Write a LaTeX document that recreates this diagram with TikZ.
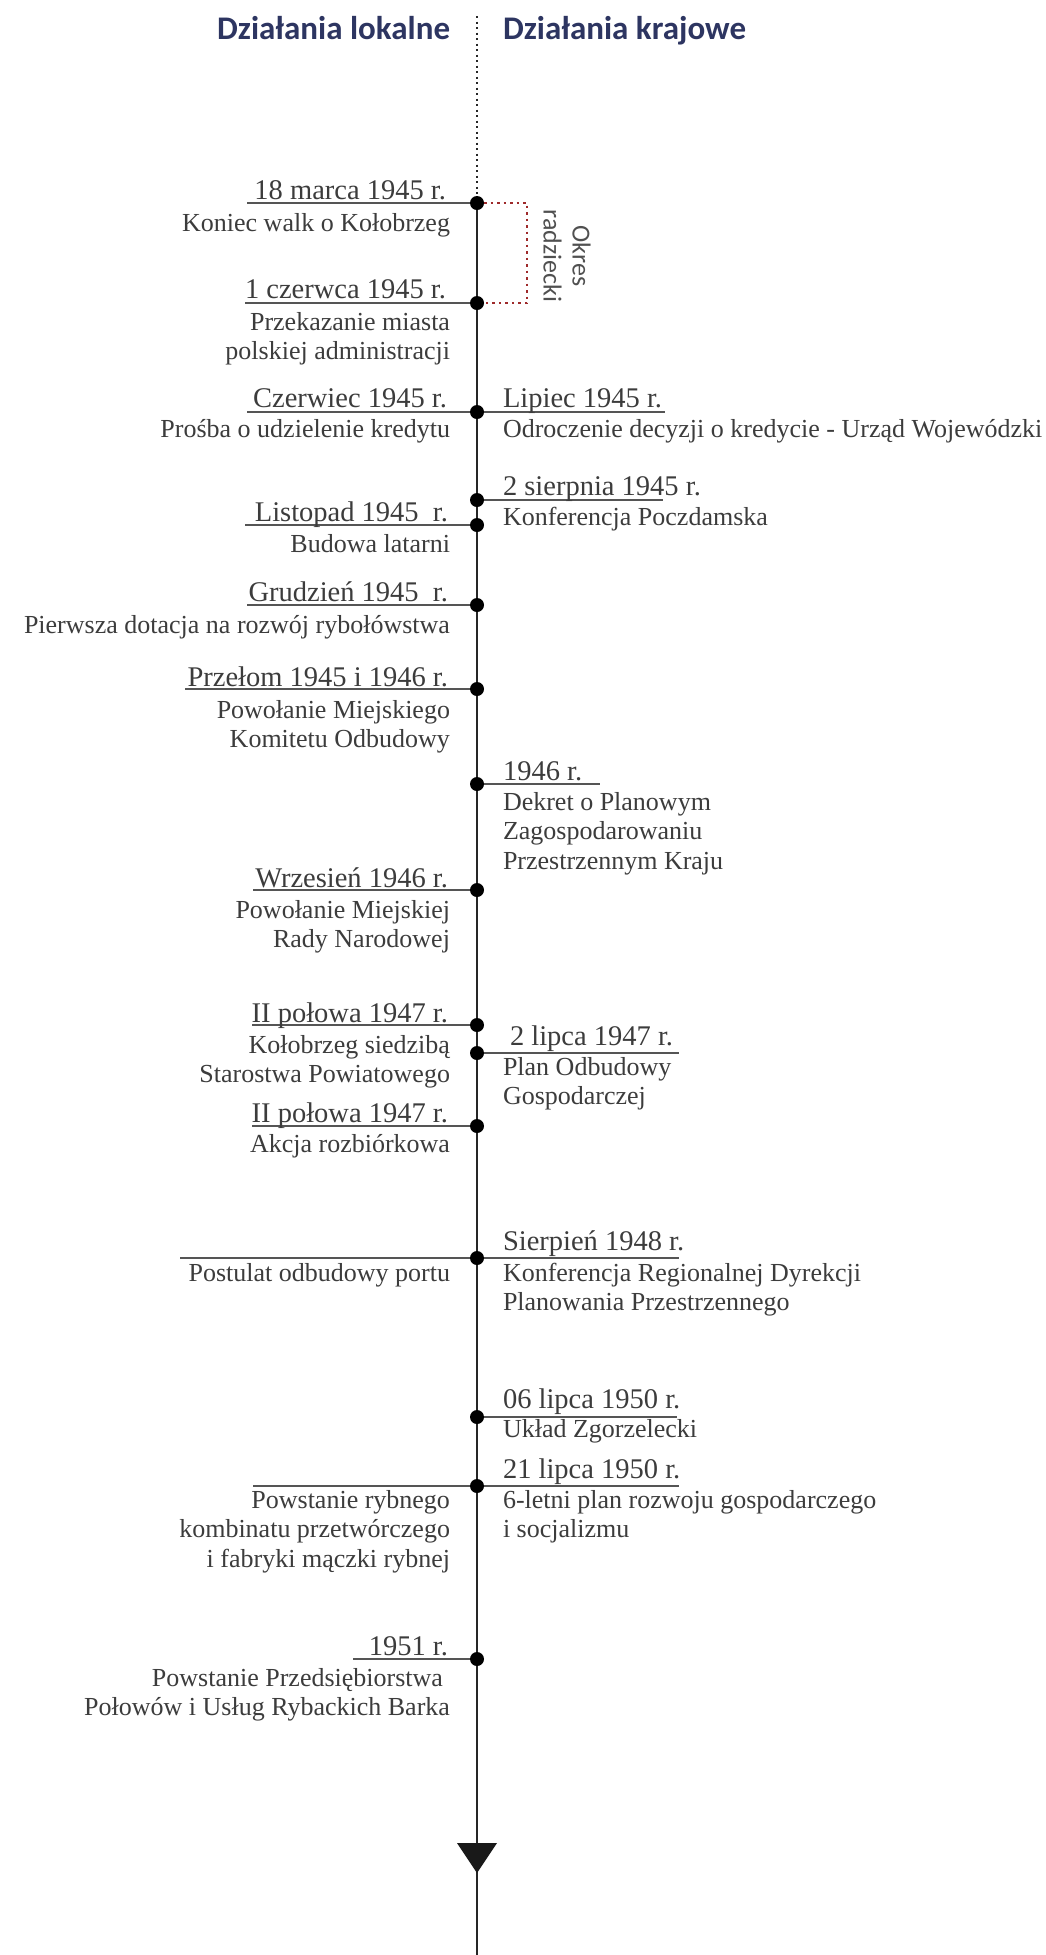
\documentclass[tikz,border=0pt]{standalone}
\usepackage{fontspec}
\setmainfont{Liberation Serif}
\newfontfamily\hdrfont{Carlito}
\definecolor{navy}{HTML}{2D3561}
\definecolor{txt}{HTML}{3C3C3C}
\definecolor{uline}{HTML}{555555}
\definecolor{brk}{HTML}{9E2A2B}
\begin{document}
\begin{tikzpicture}[x=1pt,y=-1pt,
  every node/.style={inner sep=0pt, outer sep=0pt, text=txt, font=\fontsize{26}{29.5}\selectfont},
  datefont/.style={font=\fontsize{28.5}{30}\selectfont},
  ldate/.style={datefont, anchor=base east},
  ldesc/.style={anchor=base east, align=right},
  rdate/.style={datefont, anchor=base west},
  rdesc/.style={anchor=base west, align=left},
  hdr/.style={font=\hdrfont\bfseries\fontsize{33}{36}\selectfont, text=navy},
  evdot/.style={circle, fill=black, minimum size=14pt, inner sep=0pt},
  tick/.style={draw=uline, line width=2pt},
  axisline/.style={draw=black!85, line width=2pt},
  bracketline/.style={draw=brk, line width=2.5pt, dash pattern=on 2.5pt off 4pt},
  ]
\useasboundingbox (0,0) rectangle (1045,1955);

% headers
\node[hdr, anchor=base east] (hl) at (450,39) {Działania lokalne};
\node[hdr, anchor=base west] (hr) at (503,39) {Działania krajowe};

% event positions on the axis
\coordinate (top) at (477,16);
\coordinate (bot) at (477,1955);
\coordinate (p1) at (477,203);
\coordinate (p2) at (477,303);
\coordinate (p3) at (477,412);
\coordinate (p4) at (477,500);
\coordinate (p5) at (477,525);
\coordinate (p6) at (477,605);
\coordinate (p7) at (477,689);
\coordinate (p8) at (477,784);
\coordinate (p9) at (477,890);
\coordinate (p10) at (477,1025);
\coordinate (p11) at (477,1053);
\coordinate (p12) at (477,1126);
\coordinate (p13) at (477,1258);
\coordinate (p14) at (477,1417);
\coordinate (p15) at (477,1486);
\coordinate (p16) at (477,1659);

% underline ends
\coordinate (l1) at (247,203);
\coordinate (l2) at (245,303);
\coordinate (l3) at (247,412);
\coordinate (r3) at (665,412);
\coordinate (r4) at (663,500);
\coordinate (l5) at (245,525);
\coordinate (l6) at (247,605);
\coordinate (l7) at (185,689);
\coordinate (r8) at (600,784);
\coordinate (l9) at (253,890);
\coordinate (l10) at (252,1025);
\coordinate (r11) at (679,1053);
\coordinate (l12) at (252,1126);
\coordinate (l13) at (180,1258);
\coordinate (r13) at (679,1258);
\coordinate (r14) at (677,1417);
\coordinate (l15) at (253,1486);
\coordinate (r15) at (679,1486);
\coordinate (l16) at (353,1659);

\draw[tick] (p1) -- (l1);
\draw[tick] (p2) -- (l2);
\draw[tick] (l3) -- (r3);
\draw[tick] (p4) -- (r4);
\draw[tick] (p5) -- (l5);
\draw[tick] (p6) -- (l6);
\draw[tick] (p7) -- (l7);
\draw[tick] (p8) -- (r8);
\draw[tick] (p9) -- (l9);
\draw[tick] (p10) -- (l10);
\draw[tick] (p11) -- (r11);
\draw[tick] (p12) -- (l12);
\draw[tick] (l13) -- (r13);
\draw[tick] (p14) -- (r14);
\draw[tick] (l15) -- (r15);
\draw[tick] (p16) -- (l16);

% axis
\draw[axisline, line width=2.2pt, dash pattern=on 2pt off 3.5pt] (top) -- (p1);
\draw[axisline] (p1) -- (bot);
\coordinate (arr) at (477,1843);
\fill[black!90] (arr) ++(-20,0) -- ++(40,0) -- ++(-20,30) -- cycle;

% dots
\foreach \i in {1,...,16}{ \node[evdot] (d\i) at (p\i) {}; }

% Okres radziecki bracket
\coordinate (bk) at (527,253);
\draw[bracketline] (d1.east) -| (bk) |- (d2.east);
\node[rotate=-90, align=center, font=\hdrfont\fontsize{26}{29}\selectfont, text=txt!90] (okres) at (567,256) {Okres\\radziecki};

% texts (multi-line nodes: base = baseline of last line)
\node[ldate] (t1) at (446,199) {18 marca 1945 r.};
\node[ldesc] (s1) at (450,231) {Koniec walk o Kołobrzeg};

\node[ldate] (t2) at (446,298) {1 czerwca 1945 r.};
\node[ldesc] (s2) at (450,359.5) {Przekazanie miasta\\polskiej administracji};

\node[ldate] (t3) at (447,407) {Czerwiec 1945 r.};
\node[ldesc] (s3) at (450,437) {Prośba o udzielenie kredytu};
\node[rdate] (u3) at (503,407) {Lipiec 1945 r.};
\node[rdesc] (v3) at (503,437) {Odroczenie decyzji o kredycie - Urząd Wojewódzki};

\node[rdate] (u4) at (503,495) {2 sierpnia 1945 r.};
\node[rdesc] (v4) at (503,525) {Konferencja Poczdamska};

\node[ldate] (t5) at (448,521) {Listopad 1945\ \ r.};
\node[ldesc] (s5) at (450,552) {Budowa latarni};

\node[ldate] (t6) at (448,601) {Grudzień 1945\ \ r.};
\node[ldesc] (s6) at (450,633) {Pierwsza dotacja na rozwój rybołówstwa};

\node[ldate] (t7) at (448,686) {Przełom 1945 i 1946 r.};
\node[ldesc] (s7) at (450,747.5) {Powołanie Miejskiego\\Komitetu Odbudowy};

\node[rdate] (u8) at (503,780) {1946 r.};
\node[rdesc] (v8) at (503,869) {Dekret o Planowym\\Zagospodarowaniu\\Przestrzennym Kraju};

\node[ldate] (t9) at (448,887) {Wrzesień 1946 r.};
\node[ldesc] (s9) at (450,947.5) {Powołanie Miejskiej\\Rady Narodowej};

\node[ldate] (t10) at (448,1022) {II połowa 1947 r.};
\node[ldesc] (s10) at (450,1082.5) {Kołobrzeg siedzibą\\Starostwa Powiatowego};

\node[rdate] (u11) at (510,1045) {2 lipca 1947 r.};
\node[rdesc] (v11) at (503,1104.5) {Plan Odbudowy\\Gospodarczej};

\node[ldate] (t12) at (448,1122) {II połowa 1947 r.};
\node[ldesc] (s12) at (450,1152) {Akcja rozbiórkowa};

\node[rdate] (u13) at (503,1250) {Sierpień 1948 r.};
\node[ldesc] (s13) at (450,1281) {Postulat odbudowy portu};
\node[rdesc] (v13) at (503,1310.5) {Konferencja Regionalnej Dyrekcji\\Planowania Przestrzennego};

\node[rdate] (u14) at (503,1408) {06 lipca 1950 r.};
\node[rdesc] (v14) at (503,1437) {Układ Zgorzelecki};

\node[rdate] (u15) at (503,1478) {21 lipca 1950 r.};
\node[ldesc] (s15) at (450,1567) {Powstanie rybnego\\kombinatu przetwórczego\\i fabryki mączki rybnej};
\node[rdesc] (v15) at (503,1537.5) {6-letni plan rozwoju gospodarczego\\i socjalizmu};

\node[ldate] (t16) at (448,1655) {1951 r.};
\node[ldesc] (s16) at (450,1715.5) {Powstanie Przedsiębiorstwa\hspace*{7pt}\\Połowów i Usług Rybackich Barka};
\end{tikzpicture}
\end{document}
